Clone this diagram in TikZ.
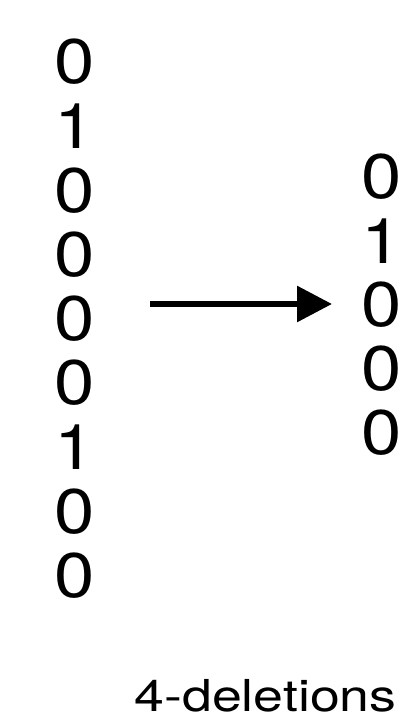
\documentclass[tikz,border=0pt]{standalone}
\usepackage{fontspec}
\setmainfont{TeX Gyre Heros}
\usetikzlibrary{arrows.meta}
\begin{document}
\begin{tikzpicture}[x=1pt,y=1pt,
  digit/.style={inner sep=0pt,xscale=1.15,font=\fontsize{63}{63}\selectfont},
  lbl/.style={inner sep=0pt,anchor=base,xscale=1.22,font=\fontsize{44}{44}\selectfont},
  conn/.style={line width=6pt,-{Triangle[length=35pt,width=35pt]}}]
\useasboundingbox (0,0) rectangle (407,-725);
\foreach \d [count=\i from 0] in {0,1,0,0,0,0,1,0,0}{
  \node[digit] (l\i) at (74.5,{-62-64.2*\i}) {\d};
}
\foreach \d [count=\i from 0] in {0,1,0,0,0}{
  \node[digit] (r\i) at (381.5,{-177-64*\i}) {\d};
}
\coordinate (a0) at (150,-304);
\coordinate (a1) at (332,-304);
\draw[conn] (a0) -- (a1);
\node[lbl] (cap) at (265.5,-711) {4-deletions};
\end{tikzpicture}
\end{document}
